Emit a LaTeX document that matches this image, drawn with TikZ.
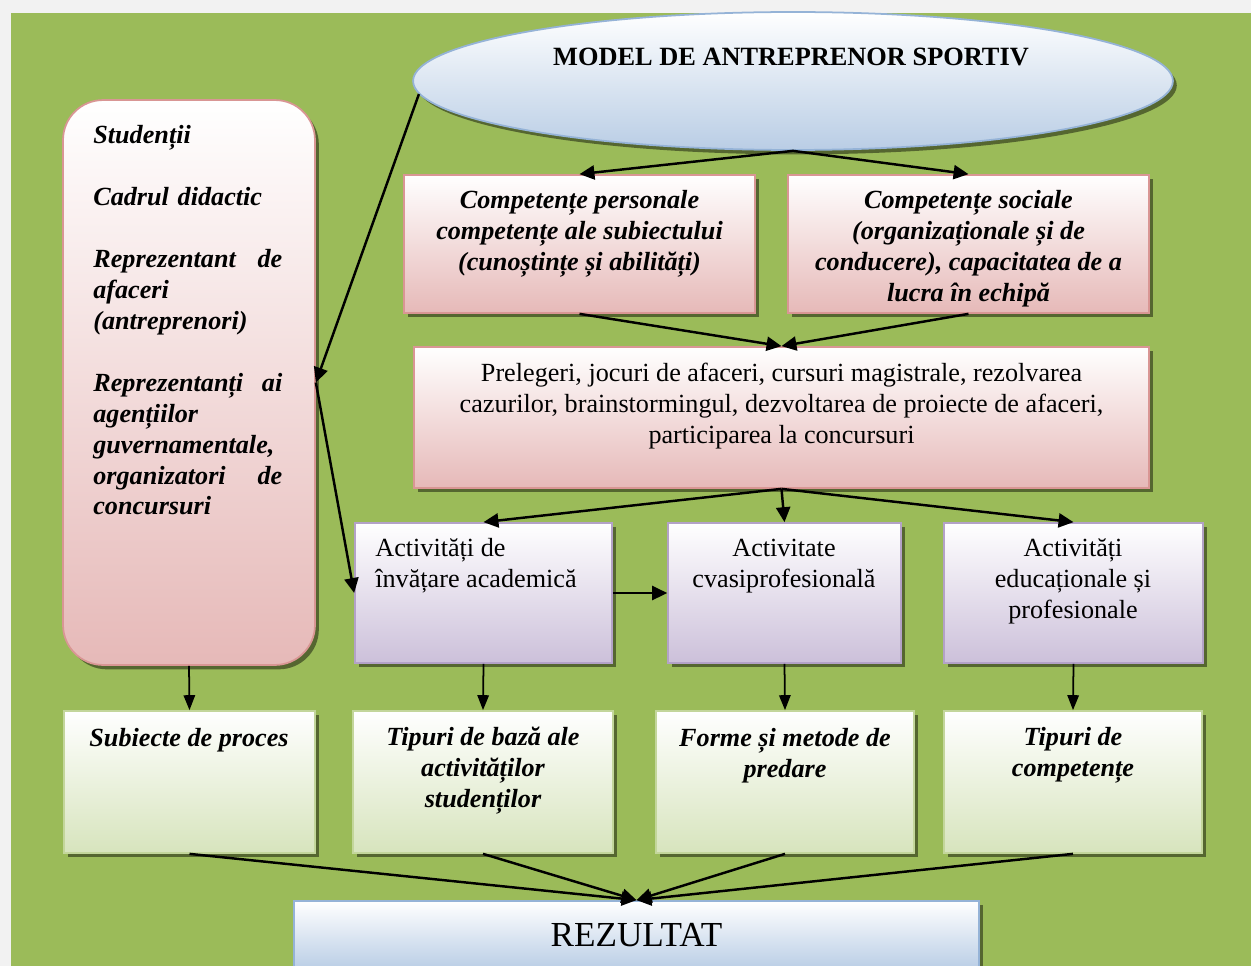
\documentclass[tikz,border=0pt]{standalone}
\usepackage{fontspec}
\setmainfont{Liberation Serif}
\usetikzlibrary{arrows.meta}
\usetikzlibrary{shapes.geometric}
\usetikzlibrary{shadows}
\usetikzlibrary{positioning}
\definecolor{pagegray}{HTML}{F2F2F2}
\definecolor{leafgreen}{HTML}{9BBB59}
\definecolor{rosefill}{HTML}{E6B9B8}
\definecolor{roseline}{HTML}{D99694}
\definecolor{lilacfill}{HTML}{CCC0DA}
\definecolor{lilacline}{HTML}{B3A2C7}
\definecolor{mintfill}{HTML}{D7E4BD}
\definecolor{mintline}{HTML}{C3D69B}
\definecolor{skyfill}{HTML}{B9CDE5}
\definecolor{skyline}{HTML}{95B3D7}
\tikzset{
  boxshadow/.style={drop shadow={shadow xshift=2.2pt, shadow yshift=-2.5pt, fill=black, opacity=0.45}},
  rosebox/.style={rectangle, draw=roseline, line width=1pt, top color=white, bottom color=rosefill, boxshadow, inner sep=0pt},
  lilacbox/.style={rectangle, draw=lilacline, line width=1pt, top color=white, bottom color=lilacfill, boxshadow, inner sep=0pt},
  mintbox/.style={rectangle, draw=mintline, line width=1pt, top color=white, bottom color=mintfill, boxshadow, inner sep=0pt},
  skybox/.style={rectangle, draw=skyline, line width=1pt, top color=white, bottom color=skyfill, boxshadow, inner sep=0pt},
  boxtext/.style={align=center, inner sep=0pt, font=\fontsize{14.9}{17.6}\selectfont},
  strongtext/.style={align=center, inner sep=0pt, font=\fontsize{14.9}{17.6}\selectfont\bfseries\itshape},
  titletext/.style={align=center, inner sep=0pt, font=\fontsize{15}{17.6}\selectfont\bfseries},
  arrow/.style={draw, -{Triangle[length=8.5pt, width=8pt]}, line width=1.4pt},
  thinarrow/.style={draw, -{Triangle[length=8.5pt, width=6.5pt]}, line width=1pt}
  }

\begin{document}
\begin{tikzpicture}[x=0.02cm, y=-0.02cm]
	% Frame
	\clip (0,0) rectangle (1251,966);
	\fill[pagegray] (0,0) rectangle (1251,966);
	\fill[leafgreen] (11,13) rectangle (1251,966);

	% Nodes
	\node[ellipse, draw=skyline, line width=1pt, top color=white, bottom color=skyfill, boxshadow, minimum width=15.2cm, minimum height=2.76cm] (model) at (793,81) {};
	\node[titletext] (modelT) at (791,57) {MODEL DE ANTREPRENOR SPORTIV};

	\node[rosebox, rounded corners=0.8cm, minimum width=5.04cm, minimum height=11.3cm] (who) at (189,382.5) {};
	\node[strongtext, align=left, text width=3.78cm, anchor=west] (whoT) at (93,320.5) {Studenții\\[17.6pt]
		Cadrul didactic\\[17.6pt]
		Reprezentant\hfill de\\ afaceri\\ (antreprenori)\\[17.6pt]
		Reprezentanți\hfill ai\\ agențiilor\\ guvernamentale,\\ organizatori\hfill de\\ concursuri};

	\node[rosebox, minimum width=7.02cm, minimum height=2.76cm] (pers) at (579.5,244) {};
	\node[strongtext] (persT) at (579.5,234) {Competențe personale\\ competențe ale subiectului\\ (cunoștințe și abilități)};
	\node[rosebox, minimum width=7.22cm, minimum height=2.76cm] (soc) at (968.5,244) {};
	\node[strongtext] (socT) at (968.5,249) {Competențe sociale\\ (organizaționale și de\\ conducere), capacitatea de a\\ lucra în echipă};

	\node[rosebox, minimum width=14.7cm, minimum height=2.82cm] (prel) at (781.5,417.5) {};
	\node[boxtext] (prelT) at (781.5,406) {Prelegeri, jocuri de afaceri, cursuri magistrale, rezolvarea\\ cazurilor, brainstormingul, dezvoltarea de proiecte de afaceri,\\ participarea la concursuri};

	\node[lilacbox, minimum width=5.14cm, minimum height=2.8cm] (actA) at (483.5,593) {};
	\node[boxtext, align=left, anchor=west] (actAT) at (375,566) {Activități de\\ învățare academică};
	\node[lilacbox, minimum width=4.66cm, minimum height=2.8cm] (actB) at (784.5,593) {};
	\node[boxtext] (actBT) at (784,566) {Activitate\\ cvasiprofesională};
	\node[lilacbox, minimum width=5.18cm, minimum height=2.8cm] (actC) at (1073.5,593) {};
	\node[boxtext] (actCT) at (1073,581) {Activități\\ educaționale și\\ profesionale};

	\node[mintbox, minimum width=5.02cm, minimum height=2.84cm] (subj) at (189.5,782) {};
	\node[strongtext] (subjT) at (189,740) {Subiecte de proces};
	\node[mintbox, minimum width=5.2cm, minimum height=2.84cm] (kinds) at (483,782) {};
	\node[strongtext] (kindsT) at (483,771) {Tipuri de bază ale\\ activităților\\ studenților};
	\node[mintbox, minimum width=5.16cm, minimum height=2.84cm] (forms) at (785,782) {};
	\node[strongtext] (formsT) at (785,755.5) {Forme și metode de\\ predare};
	\node[mintbox, minimum width=5.16cm, minimum height=2.84cm] (comp) at (1073,782) {};
	\node[strongtext] (compT) at (1073,755.5) {Tipuri de\\ competențe};

	\node[skybox, minimum width=13.7cm, minimum height=1.38cm] (result) at (636.5,935.5) {};
	\node[boxtext, font=\fontsize{20}{24}\selectfont] (resultT) at (636.5,935.5) {REZULTAT};

	% Arrow
	\draw[arrow] (model.south) -- (pers.north);
	\draw[arrow] (model.south) -- (soc.north);
	\draw[arrow] (model.182) -- (who.east);
	\draw[arrow] (who.east) -- (actA.west);
	\draw[arrow] (pers.south) -- (prel.north);
	\draw[arrow] (soc.south) -- (prel.north);
	\draw[arrow] (prel.south) -- (actA.north);
	\draw[arrow] (prel.south) -- (actB.north);
	\draw[arrow] (prel.south) -- (actC.north);
	\draw[arrow] (actA.east) -- (actB.west);

	\draw[thinarrow] (who.south) -- (subj.north);
	\draw[thinarrow] (actA.south) -- (kinds.north);
	\draw[thinarrow] (actB.south) -- (forms.north);
	\draw[thinarrow] (actC.south) -- (comp.north);

	\draw[arrow] (subj.south) -- (result.north);
	\draw[arrow] (kinds.south) -- (result.north);
	\draw[arrow] (forms.south) -- (result.north);
	\draw[arrow] (comp.south) -- (result.north);
\end{tikzpicture}
\end{document}
